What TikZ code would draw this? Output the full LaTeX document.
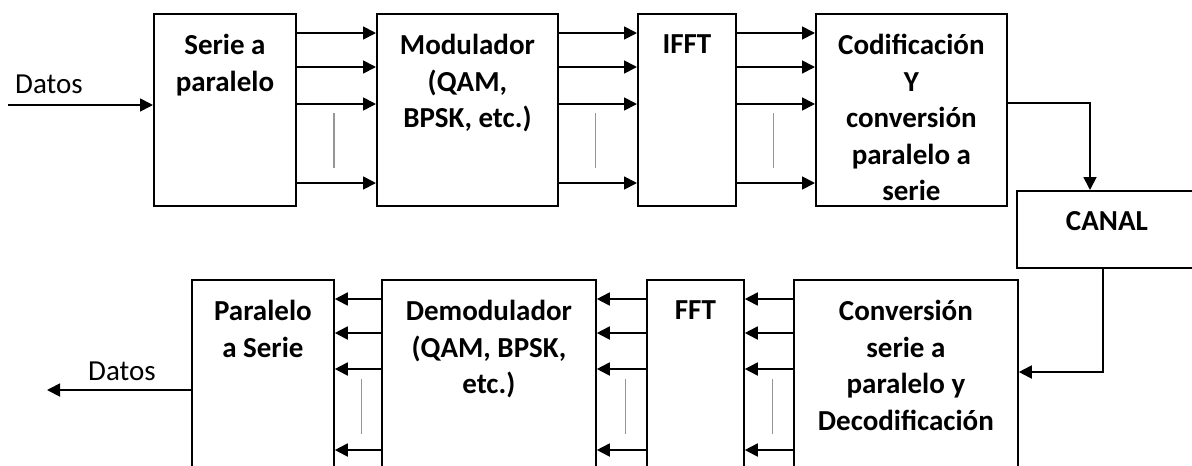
\documentclass[tikz,border=0pt]{standalone}
\usepackage{fontspec}
\setmainfont{Carlito}
\usetikzlibrary{arrows.meta,positioning,calc}
\definecolor{SepGray}{RGB}{150,150,150}
\tikzset{
  blk/.style     ={rectangle, draw=black, line width=1.8pt, fill=white, inner sep=0pt,
                   minimum height=192pt, anchor=north west},
  blktxt/.style  ={align=center, font=\fontsize{29}{36.5}\selectfont\bfseries, inner sep=0pt},
  datatxt/.style ={font=\fontsize{29}{35}\selectfont, inner sep=0pt, anchor=base west},
  arr/.style     ={-{Triangle[length=13pt,width=13pt]}, draw=black, line width=1.8pt},
  sep/.style     ={draw=SepGray, line width=1.3pt},
}
\begin{document}
\begin{tikzpicture}[x=1pt,y=-1pt]
  \useasboundingbox (0,0) rectangle (1192,466);
  % transmisor
  \node[blk,minimum width=142pt] (tx1) at (153,13) {};
  \node[blk,minimum width=181pt] (tx2) at (376,13) {};
  \node[blk,minimum width=98pt]  (tx3) at (637,13) {};
  \node[blk,minimum width=191pt] (tx4) at (815,13) {};
  \node[blk,minimum width=180pt,minimum height=77pt] (canal) at (1016,190) {};
  % receptor
  \node[blk,minimum width=224pt,minimum height=200pt] (rx1) at (793,279) {};
  \node[blk,minimum width=97pt,minimum height=200pt]  (rx2) at (646,279) {};
  \node[blk,minimum width=214pt,minimum height=200pt] (rx3) at (381,279) {};
  \node[blk,minimum width=142pt,minimum height=200pt] (rx4) at (191,279) {};
  % textos
  \node[blktxt,below=21pt of tx1.north] (t1) {Serie a\\paralelo};
  \node[blktxt,below=21pt of tx2.north] (t2) {Modulador\\(QAM,\\BPSK, etc.)};
  \node[blktxt,below=21pt of tx3.north] (t3) {IFFT};
  \node[blktxt,below=21pt of tx4.north] (t4) {Codificación\\Y\\conversión\\paralelo a\\serie};
  \node[blktxt,below=21pt of canal.north] (tc) {CANAL};
  \node[blktxt,below=21pt of rx1.north] (u1) {Conversión\\serie a\\paralelo y\\Decodificación};
  \node[blktxt,below=21pt of rx2.north] (u2) {FFT};
  \node[blktxt,below=21pt of rx3.north] (u3) {Demodulador\\(QAM, BPSK,\\etc.)};
  \node[blktxt,below=21pt of rx4.north] (u4) {Paralelo\\a Serie};
  \node[datatxt] (din lbl) at (15,93) {Datos};
  \node[datatxt] (dout lbl) at (88,380) {Datos};
  % niveles
  \coordinate (r1) at (0,33);  \coordinate (r2) at (0,67);
  \coordinate (r3) at (0,104); \coordinate (r4) at (0,183);
  \coordinate (s1) at (0,299); \coordinate (s2) at (0,333);
  \coordinate (s3) at (0,369); \coordinate (s4) at (0,450);
  \coordinate (gt) at (0,113); \coordinate (gb) at (0,168);
  \coordinate (ht) at (0,379); \coordinate (hb) at (0,434);
  \coordinate (din) at (8,105);
  \coordinate (dout) at (47,390);
  \coordinate (k1) at (1090,103);
  \coordinate (k2) at (1103,372);
  % conexiones
  \foreach \a/\b in {tx1/tx2,tx2/tx3,tx3/tx4}{
    \foreach \r in {r1,r2,r3,r4}{\draw[arr] (\a.east |- \r) -- (\b.west |- \r);}
    \coordinate (m) at ($(\a.east)!.47!(\b.west)$);
    \draw[sep] (m |- gt) -- (m |- gb);
  }
  \foreach \a/\b in {rx1/rx2,rx2/rx3,rx3/rx4}{
    \foreach \r in {s1,s2,s3,s4}{\draw[arr] (\a.west |- \r) -- (\b.east |- \r);}
    \coordinate (m) at ($(\b.east)!.58!(\a.west)$);
    \draw[sep] (m |- ht) -- (m |- hb);
  }
  \draw[arr] (din) -- (tx1.west |- din);
  \draw[arr] (tx4.east |- k1) -| (canal.north -| k1);
  \draw[arr] (canal.south -| k2) |- (rx1.east |- k2);
  \draw[arr] (rx4.west |- dout) -- (dout);
\end{tikzpicture}
\end{document}
